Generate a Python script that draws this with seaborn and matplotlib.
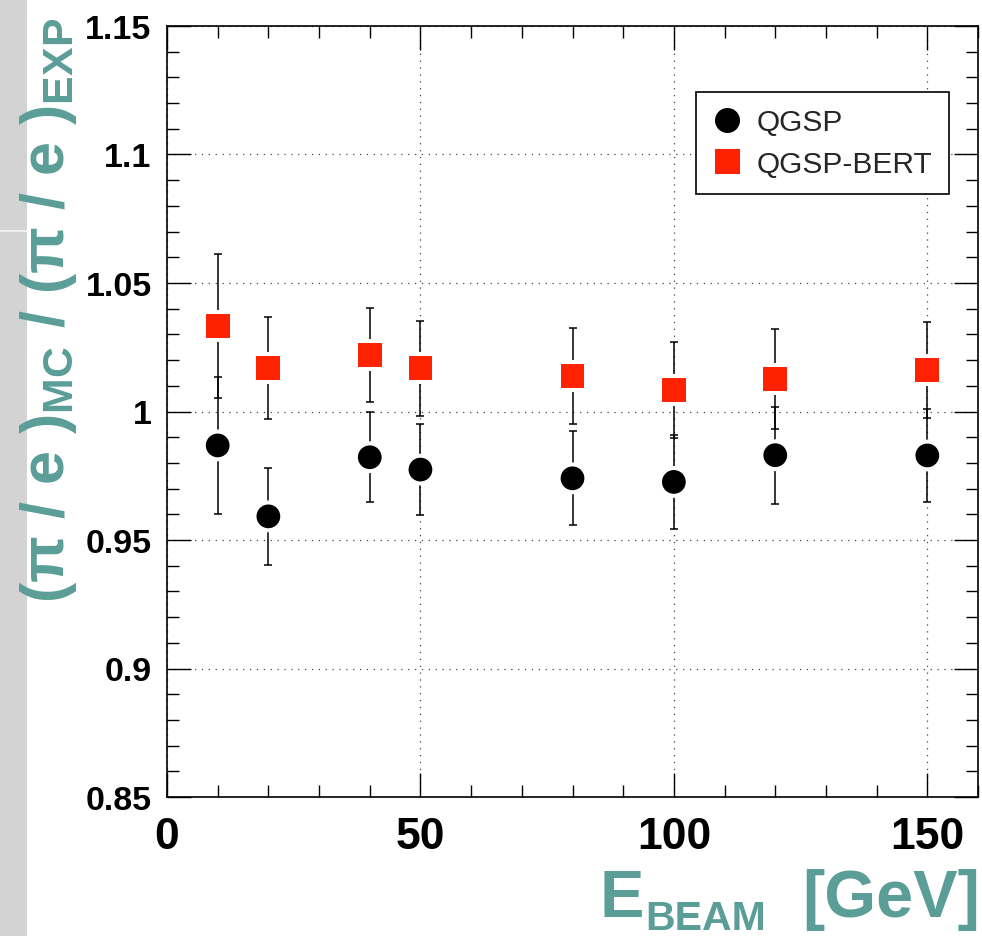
import numpy as np
import pandas as pd
import seaborn as sns
import matplotlib
matplotlib.use("Agg")
import matplotlib.pyplot as plt
from matplotlib.ticker import MultipleLocator, FuncFormatter
from matplotlib.lines import Line2D
from matplotlib.patches import Rectangle

# ---- data ----
energies = [10, 20, 40, 50, 80, 100, 120, 150]
qgsp = [0.9868, 0.9592, 0.9822, 0.9774, 0.9740, 0.9726, 0.9830, 0.9829]
qgsp_err = [0.0268, 0.0188, 0.0175, 0.0178, 0.0183, 0.0182, 0.0188, 0.0182]
bert = [1.0332, 1.0170, 1.0219, 1.0168, 1.0138, 1.0083, 1.0127, 1.0161]
bert_err = [0.0279, 0.0199, 0.0182, 0.0185, 0.0188, 0.0188, 0.0194, 0.0186]
models = ["QGSP", "QGSP-BERT"]
colors = {"QGSP": "black", "QGSP-BERT": "#ff2200"}
markers = {"QGSP": "o", "QGSP-BERT": "s"}
teal = "#5a9e97"

df = pd.DataFrame({
    "energy": energies * 2,
    "ratio": qgsp + bert,
    "err": qgsp_err + bert_err,
    "model": [models[0]] * len(energies) + [models[1]] * len(energies),
})

sns.set_theme(style="ticks")
plt.rcParams["font.family"] = ["Liberation Sans", "DejaVu Sans"]
plt.rcParams["mathtext.fontset"] = "custom"
plt.rcParams["mathtext.rm"] = "Liberation Sans"
plt.rcParams["mathtext.bf"] = "Liberation Sans:bold"
plt.rcParams["mathtext.it"] = "Liberation Sans:italic"

W, H = 982, 937
fig = plt.figure(figsize=(W / 100, H / 100), dpi=100)
fig.patch.set_facecolor("white")

# slide background strip on the left
fig.patches.append(Rectangle((0, 0), 27 / W, 1, transform=fig.transFigure,
                             facecolor="#d3d3d3", edgecolor="none", zorder=-5))
fig.add_artist(Line2D([0, 27 / W], [1 - 232 / H, 1 - 232 / H], transform=fig.transFigure,
                      color="#eeeeee", lw=1.5, zorder=-4))

ax = fig.add_axes([167 / W, 1 - 798 / H, (978 - 167) / W, (798 - 27) / H])
ax.set_facecolor("white")

# grid
ax.grid(True, which="major", linestyle=(0, (1, 4.5)), linewidth=0.9, color="#444444", zorder=0)

# error bars
for m in models:
    sub = df[df["model"] == m]
    ax.errorbar(sub["energy"], sub["ratio"], yerr=sub["err"], fmt="none",
                ecolor="black", elinewidth=1.1, capsize=3.0, capthick=1.1, zorder=2)

# markers via seaborn
sns.scatterplot(data=df, x="energy", y="ratio", hue="model", style="model",
                palette=colors, markers=markers, s=400, edgecolor="white",
                linewidth=2.9, legend=False, ax=ax, zorder=3)

ax.set_xlim(0, 160)
ax.set_ylim(0.85, 1.15)
ax.set_xlabel("")
ax.set_ylabel("")

ax.xaxis.set_major_locator(MultipleLocator(50))
ax.xaxis.set_minor_locator(MultipleLocator(10))
ax.yaxis.set_major_locator(MultipleLocator(0.05))
ax.yaxis.set_minor_locator(MultipleLocator(0.01))
fmt = FuncFormatter(lambda v, p: f"{v:g}")
ax.xaxis.set_major_formatter(fmt)
ax.yaxis.set_major_formatter(fmt)

ax.tick_params(which="both", direction="in", top=True, right=True, colors="black", width=1.0)
ax.tick_params(which="major", length=17)
ax.tick_params(which="minor", length=8.3)
ax.tick_params(axis="x", which="major", labelsize=32, pad=14)
ax.tick_params(axis="y", which="major", labelsize=24.5, pad=11)
for lab in ax.get_xticklabels() + ax.get_yticklabels():
    lab.set_fontweight("bold")
for sp in ax.spines.values():
    sp.set_visible(True)
    sp.set_linewidth(1.2)
    sp.set_color("black")

# legend
handles = [Line2D([], [], marker=markers[m], color=colors[m], ls="", ms=18, mew=0) for m in models]
leg = ax.legend(handles, models, loc="upper right", bbox_to_anchor=((949 - 167) / 811, (798 - 93) / 771),
                fontsize=21.5, frameon=True, fancybox=False, shadow=False, borderpad=0.55,
                handlelength=1.0, handletextpad=0.5, labelspacing=0.45, borderaxespad=0)
leg.get_frame().set_edgecolor("black")
leg.get_frame().set_linewidth(1.2)
leg.get_frame().set_facecolor("white")
leg.get_frame().set_alpha(1)

# axis titles (ROOT style, teal)
fig.text(600 / W, 1 - 917 / H, "E", fontsize=48, fontweight="bold", color=teal,
         ha="left", va="baseline")
fig.text(645 / W, 1 - 930 / H, "BEAM", fontsize=29.5, fontweight="bold", color=teal,
         ha="left", va="baseline")
fig.text(980 / W, 1 - 917 / H, "[GeV]", fontsize=48, fontweight="bold", color=teal,
         ha="right", va="baseline")

ylab = r"$\mathbf{(\pi\ /\ e\ )_{MC}\ /\ (\pi\ /\ e\ )_{EXP}}$"
fig.text(18 / W, 1 - 18 / H, ylab, fontsize=44, color=teal, rotation=90,
         ha="left", va="top")

fig.savefig("out.png", dpi=100, facecolor="white")
